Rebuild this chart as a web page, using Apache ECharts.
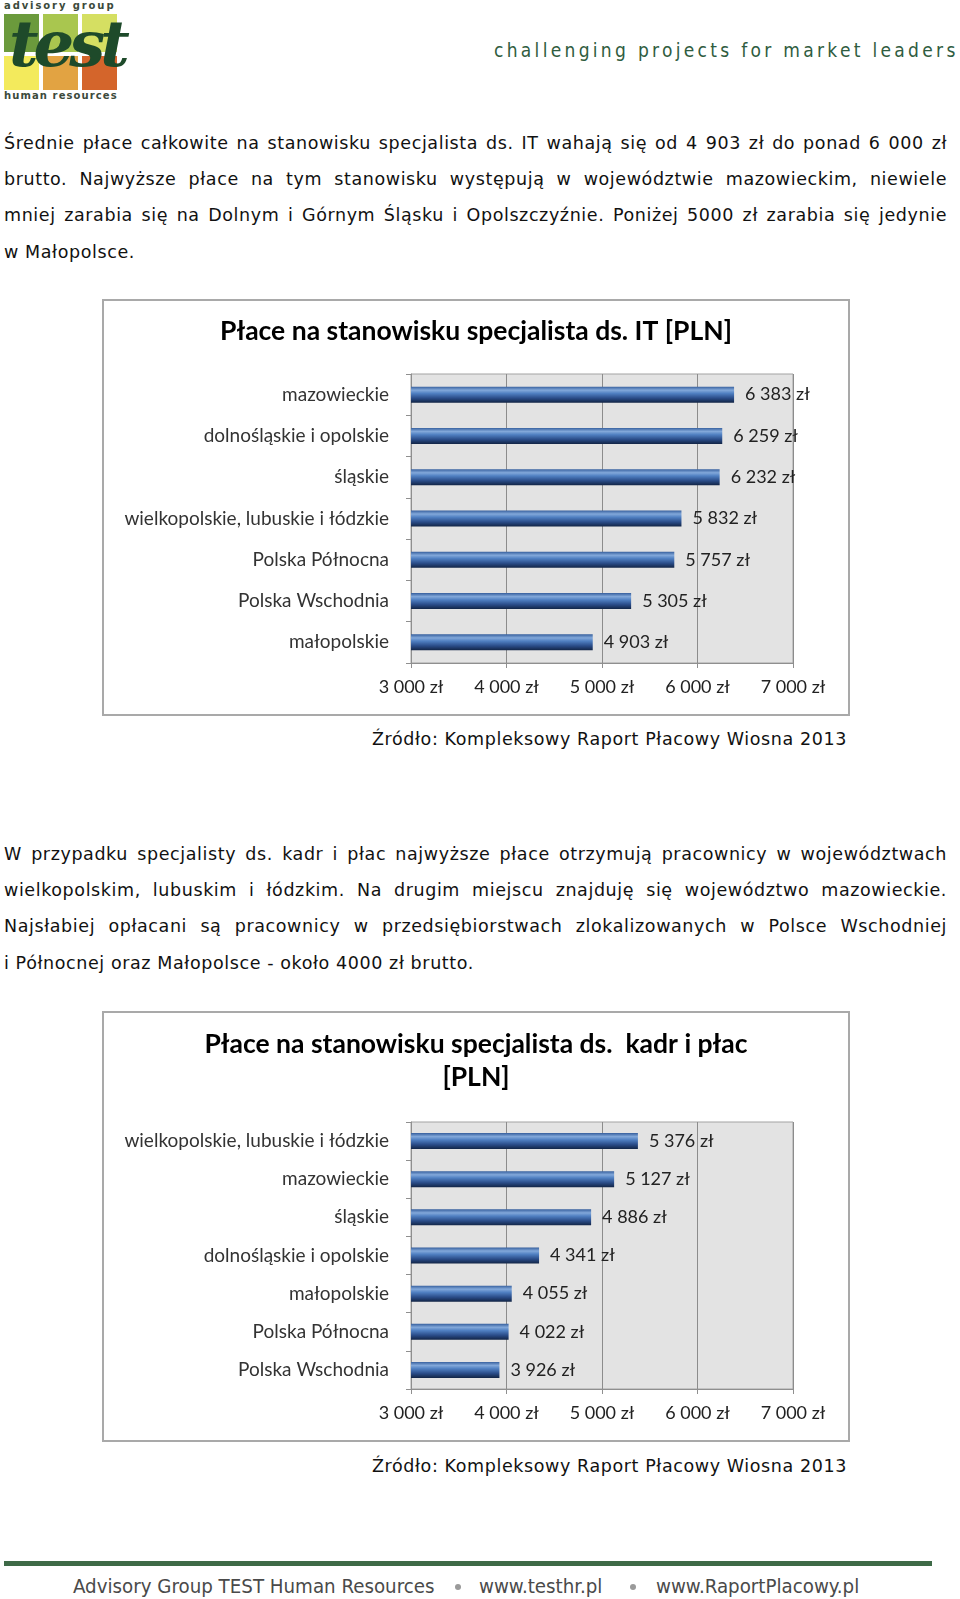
<!DOCTYPE html>
<html>
<head>
<meta charset="utf-8">
<script src="https://cdn.jsdelivr.net/npm/echarts@6/dist/echarts.min.js"></script>
<style>
  html, body { margin:0; padding:0; background:#fff; }
  body { width:960px; height:1599px; position:relative; overflow:hidden; font-family:"DejaVu Sans", sans-serif; color:#111; }
  .abs { position:absolute; }
  .sq { position:absolute; width:35px; }
  .para { position:absolute; left:4px; width:943px; font-size:17.5px; letter-spacing:0.6px; }
  .para div { height:36.2px; line-height:36.2px; white-space:nowrap; text-align:justify; text-align-last:justify; }
  .para div.last { text-align-last:left; }
  .src { position:absolute; left:372px; font-size:17.5px; letter-spacing:0.6px; white-space:nowrap; color:#111; }
  .box { position:absolute; left:102px; width:744px; border:2px solid #a9a9a9; box-sizing:content-box; }
  .foot { position:absolute; top:1574px; font-family:"DejaVu Sans Condensed", sans-serif; font-size:20.3px; color:#4a4a4a; white-space:nowrap; }
  .dot { position:absolute; top:1584px; width:6px; height:6px; border-radius:50%; background:#9a9a9a; }
</style>
</head>
<body>
<!-- logo -->
<div class="abs" style="left:4px;top:0px;font-family:'DejaVu Sans';font-weight:bold;font-size:10px;letter-spacing:1.9px;color:#3b4a3b;">advisory group</div>
<div class="sq" style="left:4px;top:14px;height:38px;background:#6b9a3c;"></div>
<div class="sq" style="left:43px;top:14px;height:38px;background:#a9c64f;"></div>
<div class="sq" style="left:82px;top:14px;height:38px;background:#d5df62;"></div>
<div class="sq" style="left:4px;top:56px;height:34px;background:#f3ea5c;"></div>
<div class="sq" style="left:43px;top:56px;height:34px;background:#e2a342;"></div>
<div class="sq" style="left:82px;top:56px;height:34px;background:#d4652b;"></div>
<div class="abs" style="left:9px;top:6px;font-family:'DejaVu Serif';font-style:italic;font-weight:bold;font-size:64px;letter-spacing:-5px;color:#1e4a2a;">test</div>
<div class="abs" style="left:4px;top:90px;font-family:'DejaVu Sans';font-weight:bold;font-size:10px;letter-spacing:1.1px;color:#3b4a3b;">human resources</div>
<div class="abs" style="left:494px;top:39px;font-family:'DejaVu Sans Condensed';font-size:19px;letter-spacing:3.3px;color:#2f5c40;white-space:nowrap;">challenging projects for market leaders</div>

<div class="para" style="top:125px;">
  <div>Średnie płace całkowite na stanowisku specjalista ds. IT wahają się od 4 903 zł do ponad 6 000 zł</div>
  <div>brutto. Najwyższe płace na tym stanowisku występują w województwie mazowieckim, niewiele</div>
  <div>mniej zarabia się na Dolnym i Górnym Śląsku i Opolszczyźnie. Poniżej 5000 zł zarabia się jedynie</div>
  <div class="last">w Małopolsce.</div>
</div>

<div class="box" id="c1" style="top:299px;height:413px;"></div>
<div class="src" style="top:729px;">Źródło: Kompleksowy Raport Płacowy Wiosna 2013</div>

<div class="para" style="top:836px;">
  <div>W przypadku specjalisty ds. kadr i płac najwyższe płace otrzymują pracownicy w województwach</div>
  <div>wielkopolskim, lubuskim i łódzkim. Na drugim miejscu znajduję się województwo mazowieckie.</div>
  <div>Najsłabiej opłacani są pracownicy w przedsiębiorstwach zlokalizowanych w Polsce Wschodniej</div>
  <div class="last">i Północnej oraz Małopolsce - około 4000 zł brutto.</div>
</div>

<div class="box" id="c2" style="top:1011px;height:427px;"></div>
<div class="src" style="top:1456px;">Źródło: Kompleksowy Raport Płacowy Wiosna 2013</div>

<div class="abs" style="left:4px;top:1561px;width:928px;height:5px;background:#3e6a47;"></div>
<div class="foot" style="left:73px;">Advisory Group TEST Human Resources</div>
<div class="dot" style="left:455px;"></div>
<div class="foot" style="left:479px;">www.testhr.pl</div>
<div class="dot" style="left:630px;"></div>
<div class="foot" style="left:656px;">www.RaportPlacowy.pl</div>

<script>
// ---- data ----
var title1 = 'Płace na stanowisku specjalista ds. IT [PLN]';
var cats1 = ['mazowieckie', 'dolnośląskie i opolskie', 'śląskie', 'wielkopolskie, lubuskie i łódzkie', 'Polska Północna', 'Polska Wschodnia', 'małopolskie'];
var vals1 = [6383, 6259, 6232, 5832, 5757, 5305, 4903];

var title2 = 'Płace na stanowisku specjalista ds.  kadr i płac\n[PLN]';
var cats2 = ['wielkopolskie, lubuskie i łódzkie', 'mazowieckie', 'śląskie', 'dolnośląskie i opolskie', 'małopolskie', 'Polska Północna', 'Polska Wschodnia'];
var vals2 = [5376, 5127, 4886, 4341, 4055, 4022, 3926];

var axisMin = 3000, axisMax = 7000, axisStep = 1000;

function fmt(v) {
  return String(v).replace(/\B(?=(\d{3})+(?!\d))/g, ' ') + ' zł';
}

var barGradient = new echarts.graphic.LinearGradient(0, 0, 0, 1, [
  { offset: 0, color: '#37609e' },
  { offset: 0.22, color: '#82a8da' },
  { offset: 0.42, color: '#5080c2' },
  { offset: 0.72, color: '#2a4c88' },
  { offset: 1, color: '#122546' }
]);

var chartFont = 'Lato, "Open Sans", sans-serif';

function makeOption(title, cats, vals, gridTop, titleTop) {
  return {
    animation: false,
    title: {
      text: title,
      left: 'center',
      top: titleTop,
      textStyle: { fontFamily: chartFont, fontWeight: 'bold', fontSize: 26.5, lineHeight: 33, color: '#000' }
    },
    grid: {
      left: 307, right: 55, top: gridTop, bottom: 51,
      show: true, backgroundColor: '#e3e3e3', borderColor: '#a3a3a3', borderWidth: 1
    },
    xAxis: {
      type: 'value', min: axisMin, max: axisMax, interval: axisStep,
      axisLine: { show: true, lineStyle: { color: '#8f8f8f' } },
      axisTick: { show: true, length: 5, lineStyle: { color: '#8f8f8f' } },
      splitLine: { show: true, lineStyle: { color: '#8c8c8c', width: 1 } },
      axisLabel: { formatter: fmt, margin: 15, fontFamily: chartFont, fontSize: 18, color: '#222' }
    },
    yAxis: {
      type: 'category', data: cats, inverse: true,
      axisLine: { show: true, lineStyle: { color: '#8f8f8f' } },
      axisTick: { show: true, length: 5, lineStyle: { color: '#8f8f8f' } },
      axisLabel: { margin: 22, fontFamily: chartFont, fontSize: 19, color: '#333' }
    },
    series: [{
      type: 'bar', data: vals, barWidth: 16,
      itemStyle: { color: barGradient },
      label: {
        show: true, position: 'right', distance: 11,
        formatter: function (p) { return fmt(p.value); },
        fontFamily: chartFont, fontSize: 18, color: '#222'
      }
    }]
  };
}

var c1 = echarts.init(document.getElementById('c1'), null, { renderer: 'canvas' });
c1.setOption(makeOption(title1, cats1, vals1, 73, 9));
var c2 = echarts.init(document.getElementById('c2'), null, { renderer: 'canvas' });
c2.setOption(makeOption(title2, cats2, vals2, 109, 10));
</script>
</body>
</html>
